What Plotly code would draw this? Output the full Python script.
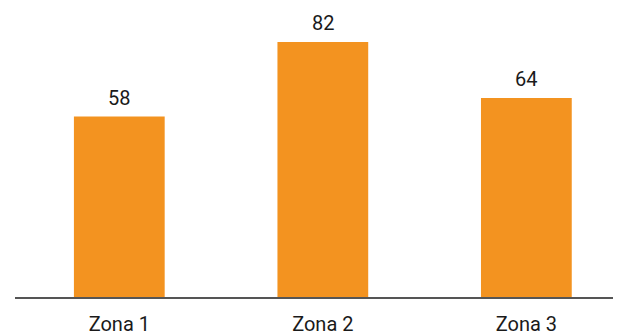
import plotly.graph_objects as go

categories = ["Zona 1", "Zona 2", "Zona 3"]
values = [58, 82, 64]

bar_color = "#F39320"
text_color = "#1a1a1a"

fig = go.Figure()
fig.add_trace(go.Bar(
    x=categories,
    y=values,
    marker=dict(color=bar_color, line=dict(width=0)),
    width=0.446,
    hoverinfo="x+y",
))

for c, v in zip(categories, values):
    fig.add_annotation(
        x=c, y=v, text=str(v), showarrow=False,
        yanchor="bottom", yshift=5,
        font=dict(family="Roboto", size=20, color=text_color),
    )

# page body has an 8px default margin, so the figure is sized to fit the window
fig.update_layout(
    width=613, height=328,
    margin=dict(l=7, r=0, t=9, b=38.5, autoexpand=False),
    paper_bgcolor="white", plot_bgcolor="white",
    showlegend=False,
    font=dict(family="Roboto", size=20, color=text_color),
    xaxis=dict(
        type="category",
        range=[-0.5125, 2.465],
        automargin=False,
        showgrid=False, zeroline=False,
        showline=True, linecolor="#555555", linewidth=1.5,
        ticks="", ticklabelstandoff=8,
        tickfont=dict(family="Roboto", size=20, color=text_color),
    ),
    yaxis=dict(
        range=[0, 90],
        visible=False,
        automargin=False,
        showgrid=False, zeroline=False,
    ),
)

fig.write_html("out.html")
